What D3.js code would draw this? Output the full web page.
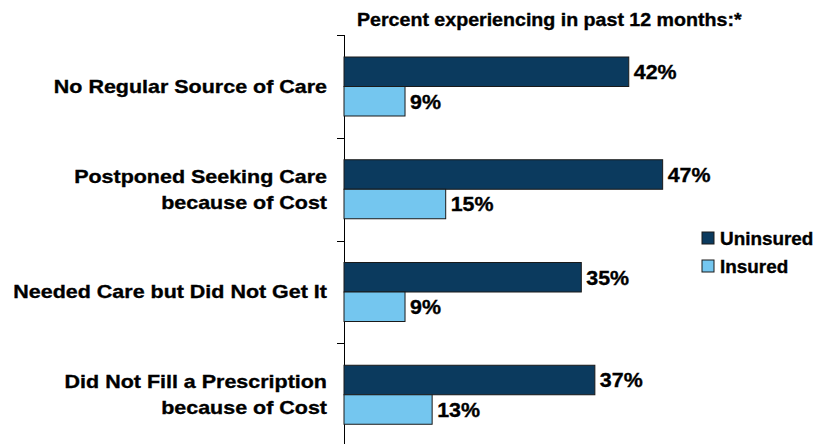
<!DOCTYPE html>
<html>
<head>
<meta charset="utf-8">
<script src="https://cdn.jsdelivr.net/npm/d3@7"></script>
<style>
  html, body { margin: 0; padding: 0; background: #fff; }
  svg text { font-family: "Liberation Sans", Arial, Helvetica, sans-serif; font-weight: bold; fill: #000; stroke: #000; stroke-width: 0.35px; }
</style>
</head>
<body>
<svg id="chart" width="816" height="444"></svg>
<script>
// Access-to-care measures, percent experiencing in past 12 months
const categories = [
  ["No Regular Source of Care"],
  ["Postponed Seeking Care", "because of Cost"],
  ["Needed Care but Did Not Get It"],
  ["Did Not Fill a Prescription", "because of Cost"]
];
const seriesNames = ["Uninsured", "Insured"];
const uninsured = [42, 47, 35, 37];
const insured = [9, 15, 9, 13];
const seriesColors = ["#0B3A5E", "#74C6EF"];
const title = "Percent experiencing in past 12 months:*";

const svg = d3.select("#chart");
const keys = categories.map(c => c.join(" "));
const rows = keys.map((k, i) => ({ key: k, lines: categories[i], values: [uninsured[i], insured[i]] }));

// Wide bold lettering: stretch text horizontally about its anchor x
const widen = (ax, s) => `matrix(${s},0,0,1,${ax * (1 - s)},0)`;

const axisX = 344;
const x = d3.scaleLinear().domain([0, 50]).range([axisX, axisX + 339]);
const y0 = d3.scaleBand().domain(keys).range([35, 446]);
const y1 = d3.scaleBand().domain(seriesNames).range([22, 81]);

// Title
svg.append("text")
  .attr("x", 357).attr("y", 26)
  .attr("transform", widen(357, 1.09))
  .style("font-size", "18px")
  .text(title);

// Vertical category axis with tick marks at band edges
svg.append("line")
  .attr("x1", axisX + 0.5).attr("x2", axisX + 0.5)
  .attr("y1", y0.range()[0]).attr("y2", y0.range()[1])
  .attr("stroke", "#000").attr("stroke-width", 1);

const edges = keys.map(k => y0(k)).concat([y0.range()[1]]);
svg.selectAll(".tick").data(edges).join("line")
  .attr("class", "tick")
  .attr("x1", axisX - 7).attr("x2", axisX)
  .attr("y1", d => Math.round(d) + 0.5).attr("y2", d => Math.round(d) + 0.5)
  .attr("stroke", "#000").attr("stroke-width", 1);

// Category labels
const labelX = 327;
const catG = svg.selectAll(".cat").data(rows).join("text")
  .attr("class", "cat")
  .attr("text-anchor", "end")
  .attr("transform", widen(labelX, 1.13))
  .style("font-size", "19px");
catG.each(function(d) {
  const t = d3.select(this);
  const cy = y0(d.key) + y0.bandwidth() / 2;
  const lh = 26;
  const start = cy + 6.5 - (d.lines.length - 1) * lh / 2;
  d.lines.forEach((ln, j) => {
    t.append("tspan").attr("x", labelX).attr("y", start + j * lh).text(ln);
  });
});

// Bars
const groups = svg.selectAll(".grp").data(rows).join("g")
  .attr("class", "grp")
  .attr("transform", d => `translate(0,${y0(d.key)})`);

groups.selectAll("rect")
  .data(d => d.values.map((v, j) => ({ name: seriesNames[j], value: v, j })))
  .join("rect")
  .attr("x", x(0))
  .attr("y", d => y1(d.name))
  .attr("width", d => x(d.value) - x(0))
  .attr("height", y1.bandwidth())
  .attr("fill", d => seriesColors[d.j])
  .attr("stroke", "#1a1a1a")
  .attr("stroke-width", 1);

groups.selectAll(".val")
  .data(d => d.values.map((v, j) => ({ name: seriesNames[j], value: v, j })))
  .join("text")
  .attr("class", "val")
  .attr("x", d => x(d.value) + 5)
  .attr("y", d => y1(d.name) + y1.bandwidth() / 2 + 7.5)
  .attr("transform", d => widen(x(d.value) + 5, 1.07))
  .style("font-size", "20px")
  .text(d => d.value + "%");

// Legend
const legend = svg.selectAll(".leg").data(seriesNames).join("g")
  .attr("class", "leg")
  .attr("transform", (d, i) => `translate(702,${232 + i * 28})`);
legend.append("rect")
  .attr("width", 12).attr("height", 12)
  .attr("fill", (d, i) => seriesColors[i])
  .attr("stroke", "#1a1a1a").attr("stroke-width", 1);
legend.append("text")
  .attr("x", 18).attr("y", 13)
  .attr("transform", widen(18, 1.05))
  .style("font-size", "18px")
  .text(d => d);
</script>
</body>
</html>
